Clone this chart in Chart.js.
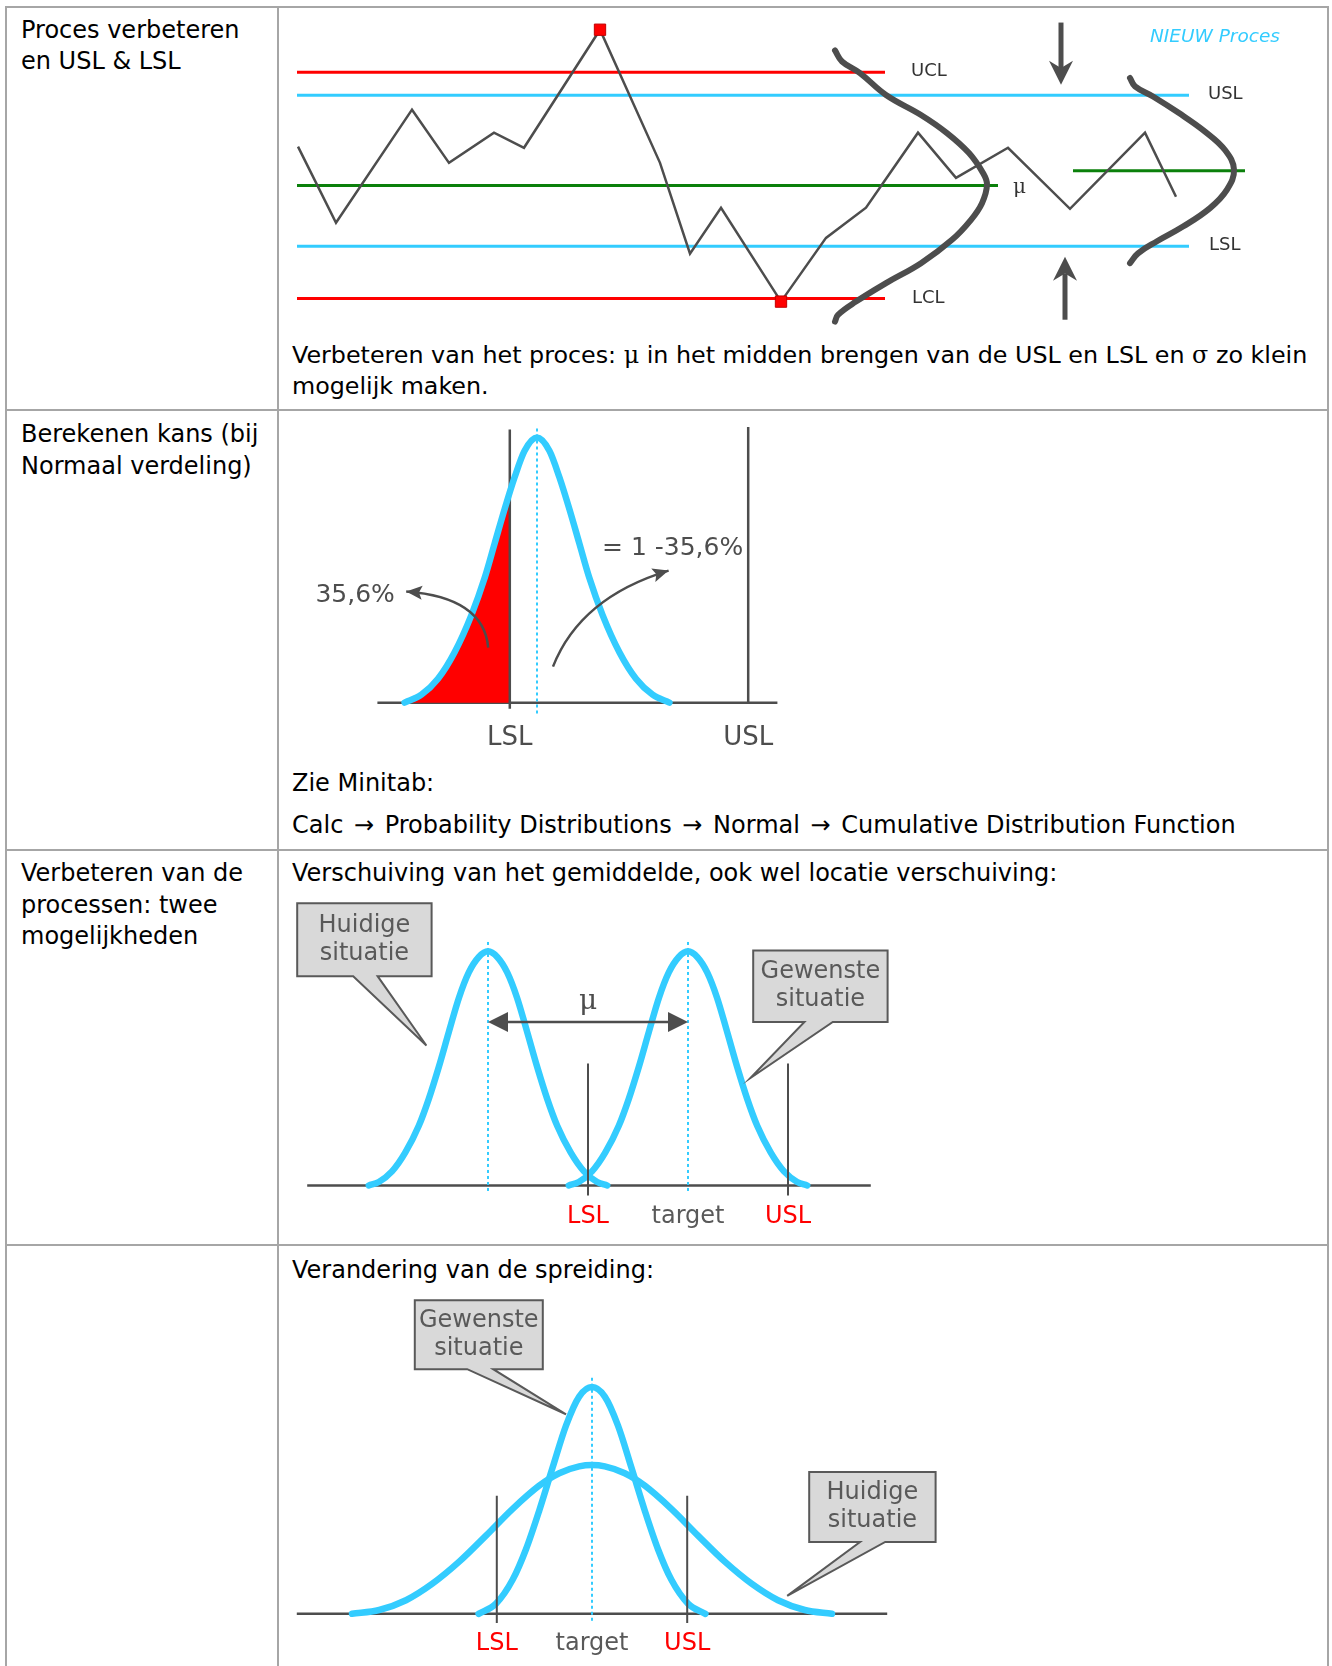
<!DOCTYPE html>
<html>
<head>
<meta charset="utf-8">
<title>Proces verbeteren</title>
<script src="https://cdn.jsdelivr.net/npm/chart.js@4.4.1/dist/chart.umd.min.js"></script>
<style>
  html, body { margin: 0; padding: 0; background: #fff; }
  body { width: 1332px; height: 1666px; position: relative; overflow: hidden;
         font-family: "DejaVu Sans", sans-serif; font-size: 24px; color: #000; }
  .rule { position: absolute; background: #a6a6a6; }
  .txt { position: absolute; white-space: nowrap; line-height: 31px; }
  .sym { font-family: "DejaVu Serif", serif; }
  .arr { margin: 0 3px; }
  canvas { position: absolute; }
</style>
</head>
<body>
<!-- table grid -->
<div class="rule" style="left:5px;top:6px;width:2px;height:1660px"></div>
<div class="rule" style="left:277px;top:6px;width:2px;height:1660px"></div>
<div class="rule" style="left:1327px;top:6px;width:2px;height:1660px"></div>
<div class="rule" style="left:5px;top:6px;width:1324px;height:2px"></div>
<div class="rule" style="left:5px;top:409px;width:1324px;height:2px"></div>
<div class="rule" style="left:5px;top:849px;width:1324px;height:2px"></div>
<div class="rule" style="left:5px;top:1244px;width:1324px;height:2px"></div>

<!-- left column -->
<div class="txt" style="left:21px;top:15px;line-height:30.5px">Proces verbeteren<br>en USL &amp; LSL</div>
<div class="txt" style="left:21px;top:418px;line-height:32px">Berekenen kans (bij<br>Normaal verdeling)</div>
<div class="txt" style="left:21px;top:858px;line-height:31.5px">Verbeteren van de<br>processen: twee<br>mogelijkheden</div>

<!-- right column text -->
<div class="txt" style="left:292px;top:340px;font-size:23.8px">Verbeteren van het proces: <span class="sym">μ</span> in het midden brengen van de USL en LSL en <span class="sym">σ</span> zo klein<br>mogelijk maken.</div>
<div class="txt" style="left:292px;top:768px">Zie Minitab:</div>
<div class="txt" style="left:292px;top:810px">Calc <span class="arr">→</span> Probability Distributions <span class="arr">→</span> Normal <span class="arr">→</span> Cumulative Distribution Function</div>
<div class="txt" style="left:292px;top:858px">Verschuiving van het gemiddelde, ook wel locatie verschuiving:</div>
<div class="txt" style="left:292px;top:1255px">Verandering van de spreiding:</div>

<canvas id="control" width="1040" height="313" style="left:280px;top:12px"></canvas>
<canvas id="prob" width="1040" height="350" style="left:281px;top:411px"></canvas>
<canvas id="shift" width="1040" height="391" style="left:280px;top:853px"></canvas>
<canvas id="spread" width="1040" height="415" style="left:280px;top:1251px"></canvas>

<script>
// ---- row 1: control chart (x = position, y in sigma units of the old process) ----
const sampleX = [1.8, 5.6, 13.2, 16.9, 21.4, 24.4, 32.0, 38.0, 41.0, 44.1, 50.1, 54.6, 58.6, 63.8, 67.6, 72.8, 79.0, 86.5, 89.6];
const sampleY = [1.03, -0.99, 2.01, 0.60, 1.40, 1.00, 4.13, 0.60, -1.81, -0.59, -3.08, -1.39, -0.59, 1.40, 0.20, 1.00, -0.62, 1.40, -0.30];
const flaggedSamples = [6, 10];
const limitLabels = ['UCL', 'USL', 'μ', 'LSL', 'LCL'];
const limitValues = [3, 2.39, 0, -1.61, -3];
const newMean = 0.39;
const oldSpreadX = [55.5, 56.2, 58.0, 60.6, 64.1, 66.7, 68.9, 70.3, 70.7, 70.2, 69.1, 67.2, 64.1, 60.6, 57.6, 55.8, 55.5];
const oldSpreadY = [3.58, 3.29, 2.98, 2.40, 1.87, 1.39, 0.86, 0.33, 0.02, -0.47, -0.91, -1.44, -2.06, -2.59, -3.08, -3.43, -3.61];
const newSpreadX = [85.0, 85.5, 87.3, 89.9, 92.5, 94.5, 95.4, 94.7, 93.0, 90.3, 87.7, 85.8, 85.0];
const newSpreadY = [2.85, 2.63, 2.36, 1.92, 1.43, 0.94, 0.42, -0.11, -0.60, -1.09, -1.48, -1.80, -2.06];

// ---- row 2: probability below LSL ----
const normX = [-3.31, -2.89, -2.475, -2.06, -1.64, -1.31, -1.06, -0.81, -0.56, -0.31, 0, 0.31, 0.56, 0.81, 1.06, 1.31, 1.64, 2.06, 2.475, 2.89, 3.31];
const normY = [0, 0.03, 0.09, 0.19, 0.33, 0.47, 0.60, 0.73, 0.85, 0.95, 1, 0.95, 0.85, 0.73, 0.60, 0.47, 0.33, 0.19, 0.09, 0.03, 0];
const tailX = [-3.31, -2.89, -2.475, -2.06, -1.64, -1.31, -1.06, -0.81, -0.68];
const tailY = [0, 0.03, 0.09, 0.19, 0.33, 0.47, 0.60, 0.73, 0.77];
const probSpec = [-0.68, 5.28];
const probSpecLabels = ['LSL', 'USL'];
const tailText = '35,6%';
const restText = '= 1 -35,6%';

// ---- row 3: shift of the mean ----
const shiftNowX = [-7.98, -7.73, -7.4, -7.07, -6.73, -6.48, -6.23, -5.98, -5.73, -5.48, -5.23, -5.0, -4.77, -4.52, -4.27, -4.02, -3.77, -3.52, -3.27, -2.93, -2.6, -2.27, -2.02];
const shiftGoalX = [-2.98, -2.73, -2.4, -2.07, -1.73, -1.48, -1.23, -0.98, -0.73, -0.48, -0.23, 0, 0.23, 0.48, 0.73, 0.98, 1.23, 1.48, 1.73, 2.07, 2.4, 2.73, 2.98];
const shiftY = [0, 0.015, 0.06, 0.14, 0.255, 0.37, 0.506, 0.655, 0.80, 0.91, 0.976, 1.0, 0.976, 0.91, 0.80, 0.655, 0.506, 0.37, 0.255, 0.14, 0.06, 0.015, 0];
const shiftMeans = [-5, 0];
const shiftSpec = [-2.5, 0, 2.5];

// ---- row 4: change of spread ----
const wideX = [-6.0, -5.32, -4.65, -3.99, -3.32, -2.65, -1.99, -1.32, -0.82, -0.32, 0, 0.32, 0.82, 1.32, 1.99, 2.65, 3.32, 3.99, 4.65, 5.32, 6.0];
const wideY = [0, 0.017, 0.060, 0.133, 0.230, 0.345, 0.462, 0.565, 0.620, 0.650, 0.656, 0.650, 0.620, 0.565, 0.462, 0.345, 0.230, 0.133, 0.060, 0.017, 0];
const narrowX = [-2.835, -2.4, -1.985, -1.65, -1.32, -0.985, -0.65, -0.32, 0, 0.32, 0.65, 0.985, 1.32, 1.65, 1.985, 2.4, 2.835];
const narrowY = [0, 0.045, 0.15, 0.285, 0.455, 0.645, 0.83, 0.958, 1.0, 0.958, 0.83, 0.645, 0.455, 0.285, 0.15, 0.045, 0];
const spreadSpec = [-2.38, 0, 2.38];

const specLabels = ['LSL', 'target', 'USL'];

const FONT = '"DejaVu Sans", sans-serif';
const SERIF = '"DejaVu Serif", serif';
const GREY = '#4d4d4d';
const CYAN = '#33ccff';
const RED = '#ff0000';

Chart.defaults.font.family = FONT;

function series(xs, ys, style) {
  return Object.assign({
    data: xs.map((x, i) => ({ x: x, y: ys[i] })),
    showLine: true, clip: false, pointRadius: 0, fill: false, borderWidth: 2
  }, style);
}

function bell(xs, ys, width) {
  return series(xs, ys, { borderColor: CYAN, borderWidth: width || 6.5, cubicInterpolationMode: 'monotone', borderCapStyle: 'round', borderJoinStyle: 'round' });
}

function arrowHead(ctx, tx, ty, ang, len, half, notch) {
  const c = Math.cos(ang), s = Math.sin(ang);
  ctx.beginPath();
  ctx.moveTo(tx, ty);
  ctx.lineTo(tx - len * c - half * s, ty - len * s + half * c);
  ctx.lineTo(tx - len * notch * c, ty - len * notch * s);
  ctx.lineTo(tx - len * c + half * s, ty - len * s - half * c);
  ctx.closePath();
  ctx.fill();
}

// draws texts, arrows and callouts at data positions
function extras(items) {
  return {
    id: 'extras',
    afterDatasetsDraw(chart) {
      const ctx = chart.ctx;
      const X = v => chart.scales.x.getPixelForValue(v);
      const Y = v => chart.scales.y.getPixelForValue(v);
      items.forEach(it => {
        ctx.save();
        if (it.type === 'text') {
          ctx.font = it.font;
          ctx.fillStyle = it.color;
          ctx.textAlign = it.align || 'center';
          ctx.textBaseline = 'middle';
          ctx.fillText(it.text, X(it.x), Y(it.y));
        } else if (it.type === 'arrow') {
          const p = it.pts.map(q => [X(q[0]), Y(q[1])]);
          const a = p[0], e = p[p.length - 1];
          const before = p.length === 3 ? p[1] : a;
          const ang = Math.atan2(e[1] - before[1], e[0] - before[0]);
          const back = it.len * it.notch;
          ctx.strokeStyle = it.color;
          ctx.fillStyle = it.color;
          ctx.lineWidth = it.width;
          ctx.beginPath();
          if (p.length === 3) {
            ctx.moveTo(a[0], a[1]);
            ctx.quadraticCurveTo(p[1][0], p[1][1], e[0], e[1]);
          } else {
            const sa = it.both ? back : 0;
            ctx.moveTo(a[0] + sa * Math.cos(ang), a[1] + sa * Math.sin(ang));
            ctx.lineTo(e[0] - back * Math.cos(ang), e[1] - back * Math.sin(ang));
          }
          ctx.stroke();
          arrowHead(ctx, e[0], e[1], ang, it.len, it.half, it.notch);
          if (it.both) arrowHead(ctx, a[0], a[1], ang + Math.PI, it.len, it.half, it.notch);
        } else if (it.type === 'callout') {
          const L = X(it.box[0]), T = Y(it.box[1]), R = X(it.box[2]), B = Y(it.box[3]);
          ctx.beginPath();
          ctx.moveTo(L, T);
          ctx.lineTo(R, T);
          ctx.lineTo(R, B);
          ctx.lineTo(X(it.ptr[1]), B);
          ctx.lineTo(X(it.ptr[2]), Y(it.ptr[3]));
          ctx.lineTo(X(it.ptr[0]), B);
          ctx.lineTo(L, B);
          ctx.closePath();
          ctx.fillStyle = '#d9d9d9';
          ctx.fill();
          ctx.strokeStyle = '#595959';
          ctx.lineWidth = 2;
          ctx.lineJoin = 'miter';
          ctx.stroke();
          ctx.font = '24px ' + FONT;
          ctx.fillStyle = '#595959';
          ctx.textAlign = 'center';
          ctx.textBaseline = 'middle';
          const cx = (L + R) / 2, cy = (T + B) / 2;
          ctx.fillText(it.lines[0], cx, cy - 14);
          ctx.fillText(it.lines[1], cx, cy + 14);
        }
        ctx.restore();
      });
    }
  };
}

function makeChart(id, xr, yr, datasets, items) {
  return new Chart(document.getElementById(id), {
    type: 'scatter',
    data: { datasets: datasets },
    options: {
      responsive: false,
      animation: false,
      events: [],
      devicePixelRatio: 1,
      layout: { padding: 0 },
      elements: { point: { radius: 0, hoverRadius: 0 } },
      scales: {
        x: { type: 'linear', display: false, min: xr[0], max: xr[1] },
        y: { type: 'linear', display: false, min: yr[0], max: yr[1] }
      },
      plugins: { legend: { display: false }, tooltip: { enabled: false } }
    },
    plugins: [extras(items)]
  });
}

// ---------- row 1 ----------
const limitColors = [RED, CYAN, '#0b800b', CYAN, RED];
const limitSpan = [[1.7, 60.5], [1.7, 90.9], [1.7, 71.8], [1.7, 90.9], [1.7, 60.5]];
const limitLabelX = [63.1, 92.8, 73.3, 92.9, 63.2];
const controlSets = [
  series(oldSpreadX, oldSpreadY, { borderColor: GREY, borderWidth: 6, tension: 0.4, borderCapStyle: 'round' }),
  series(newSpreadX, newSpreadY, { borderColor: GREY, borderWidth: 6, tension: 0.4, borderCapStyle: 'round' }),
  series(sampleX, sampleY, {
    borderColor: GREY, borderWidth: 2.5, tension: 0,
    pointStyle: 'rect',
    pointRadius: sampleY.map((v, i) => flaggedSamples.includes(i) ? 8 : 0),
    pointBackgroundColor: RED, pointBorderColor: '#c00000', pointBorderWidth: 1
  }),
  series([79.3, 96.5], [newMean, newMean], { borderColor: '#0b800b', borderWidth: 3 })
].concat(limitValues.map((v, i) => series(limitSpan[i], [v, v], { borderColor: limitColors[i], borderWidth: 3 })));

const controlItems = limitLabels.map((t, i) => ({
  type: 'text', text: t, x: limitLabelX[i], y: limitValues[i] + (i === 2 ? -0.06 : 0.02), align: 'left',
  font: i === 2 ? '20px ' + SERIF : '18px ' + FONT, color: '#333'
})).concat([
  { type: 'text', text: 'NIEUW Proces', x: 87.0, y: 3.93, align: 'left', font: 'italic 18.5px ' + FONT, color: CYAN },
  { type: 'arrow', pts: [[78.1, 4.32], [78.1, 2.67]], color: GREY, width: 5, len: 24, half: 12, notch: 0.7 },
  { type: 'arrow', pts: [[78.5, -3.56], [78.5, -1.89]], color: GREY, width: 5, len: 24, half: 12, notch: 0.7 }
]);
makeChart('control', [0, 104], [-3.7, 4.6], controlSets, controlItems);

// ---------- row 2 ----------
const probSets = [
  series([0, 0], [1.034, -0.042], { borderColor: CYAN, borderWidth: 2, borderDash: [3, 3] }),
  bell(normX, normY, 6.5),
  series([probSpec[0], probSpec[0]], [1.03, -0.023], { borderColor: GREY, borderWidth: 2.5 }),
  series([probSpec[1], probSpec[1]], [1.04, 0], { borderColor: GREY, borderWidth: 2.5 }),
  series(tailX, tailY, { borderWidth: 0, borderColor: RED, backgroundColor: RED, fill: 'origin', cubicInterpolationMode: 'monotone' }),
  series([-3.99, 6.01], [0, 0], { borderColor: GREY, borderWidth: 2.5 })
];
const probItems = probSpecLabels.map((t, i) => ({
  type: 'text', text: t, x: probSpec[i], y: -0.136, font: '26px ' + FONT, color: GREY
})).concat([
  { type: 'text', text: tailText, x: -5.54, y: 0.404, align: 'left', font: '25px ' + FONT, color: GREY },
  { type: 'text', text: restText, x: 1.625, y: 0.581, align: 'left', font: '25px ' + FONT, color: GREY },
  { type: 'arrow', pts: [[-1.22, 0.208], [-1.335, 0.397], [-3.27, 0.419]], color: GREY, width: 2.5, len: 16, half: 7, notch: 0.8 },
  { type: 'arrow', pts: [[0.40, 0.136], [1.08, 0.397], [3.29, 0.498]], color: GREY, width: 2.5, len: 16, half: 7, notch: 0.8 }
]);
makeChart('prob', [-6.4, 19.6], [-0.22, 1.1], probSets, probItems);

// ---------- row 3 ----------
const specColors = [RED, '#595959', RED];
const shiftSets = [
  series([shiftSpec[0], shiftSpec[0]], [0.521, -0.043], { borderColor: GREY, borderWidth: 2 }),
  series([shiftSpec[2], shiftSpec[2]], [0.521, -0.043], { borderColor: GREY, borderWidth: 2 }),
  series([shiftMeans[0], shiftMeans[0]], [1.04, -0.029], { borderColor: CYAN, borderWidth: 2, borderDash: [3, 3] }),
  series([shiftMeans[1], shiftMeans[1]], [1.04, -0.029], { borderColor: CYAN, borderWidth: 2, borderDash: [3, 3] }),
  bell(shiftNowX, shiftY, 6.5),
  bell(shiftGoalX, shiftY, 6.5),
  series([-9.52, 4.57], [0, 0], { borderColor: GREY, borderWidth: 2.5 })
];
const shiftItems = specLabels.map((t, i) => ({
  type: 'text', text: t, x: shiftSpec[i], y: -0.135, font: '24px ' + FONT, color: specColors[i]
})).concat([
  { type: 'arrow', pts: [[shiftMeans[0], 0.698], [shiftMeans[1], 0.698]], both: true, color: GREY, width: 2.5, len: 20, half: 10, notch: 1 },
  { type: 'text', text: 'μ', x: -2.5, y: 0.783, font: '28px ' + SERIF, color: GREY },
  { type: 'callout', box: [-9.77, 1.205, -6.41, 0.894], ptr: [-8.37, -7.76, -6.54, 0.598], lines: ['Huidige', 'situatie'] },
  { type: 'callout', box: [1.63, 1.004, 4.99, 0.698], ptr: [2.91, 3.62, 1.56, 0.459], lines: ['Gewenste', 'situatie'] }
]);
makeChart('shift', [-10.2, 15.8], [-0.25, 1.42], shiftSets, shiftItems);

// ---------- row 4 ----------
const spreadSets = [
  series([spreadSpec[0], spreadSpec[0]], [0.521, -0.04], { borderColor: GREY, borderWidth: 2 }),
  series([spreadSpec[2], spreadSpec[2]], [0.521, -0.04], { borderColor: GREY, borderWidth: 2 }),
  series([spreadSpec[1], spreadSpec[1]], [1.041, -0.038], { borderColor: CYAN, borderWidth: 2, borderDash: [3, 3] }),
  bell(narrowX, narrowY, 6.5),
  bell(wideX, wideY, 6.5),
  series([-7.38, 7.38], [0, 0], { borderColor: GREY, borderWidth: 2.5 })
];
const spreadItems = specLabels.map((t, i) => ({
  type: 'text', text: t, x: spreadSpec[i], y: -0.132, font: '24px ' + FONT, color: specColors[i]
})).concat([
  { type: 'callout', box: [-4.43, 1.383, -1.23, 1.079], ptr: [-3.12, -2.47, -0.65, 0.880], lines: ['Gewenste', 'situatie'] },
  { type: 'callout', box: [5.43, 0.626, 8.59, 0.317], ptr: [6.70, 7.33, 4.88, 0.079], lines: ['Huidige', 'situatie'] }
]);
makeChart('spread', [-7.8, 18.2], [-0.23, 1.6], spreadSets, spreadItems);
</script>
</body>
</html>
